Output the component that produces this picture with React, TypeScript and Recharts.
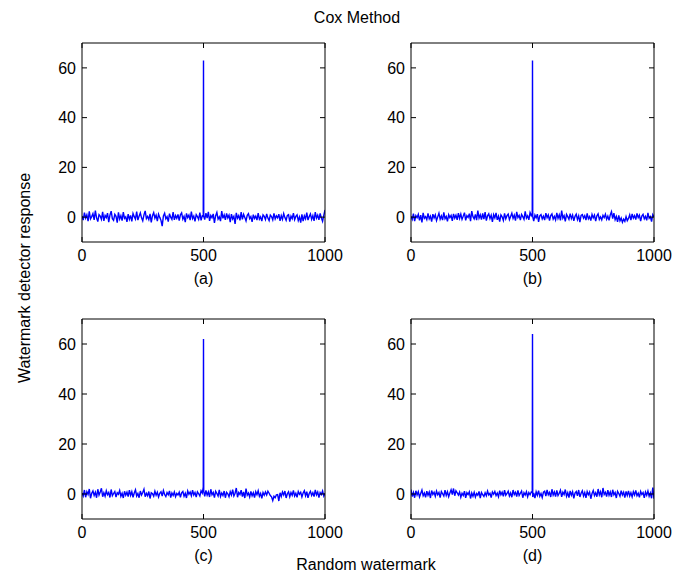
import { LineChart, Line, XAxis, YAxis } from "recharts";

const FONT = "'Liberation Sans', Arial, sans-serif";
const BLUE = "#0000FF";

const X_TICKS = [0, 500, 1000];
const Y_TICKS = [0, 20, 40, 60];

// sample positions along the random-watermark axis
const SAMPLE_X = [
  0, 5, 10, 15, 20, 25, 30, 35, 40, 45, 50, 55, 60, 65, 70, 75, 80, 85, 90, 95,
  100, 105, 110, 115, 120, 125, 130, 135, 140, 145, 150, 155, 160, 165, 170, 175, 180, 185, 190, 195,
  200, 205, 210, 215, 220, 225, 230, 235, 240, 245, 250, 255, 260, 265, 270, 275, 280, 285, 290, 295,
  300, 305, 310, 315, 320, 325, 330, 335, 340, 345, 350, 355, 360, 365, 370, 375, 380, 385, 390, 395,
  400, 405, 410, 415, 420, 425, 430, 435, 440, 445, 450, 455, 460, 465, 470, 475, 480, 485, 490, 495,
  499, 500, 501,
  505, 510, 515, 520, 525, 530, 535, 540, 545, 550, 555, 560, 565, 570, 575, 580, 585, 590, 595, 600,
  605, 610, 615, 620, 625, 630, 635, 640, 645, 650, 655, 660, 665, 670, 675, 680, 685, 690, 695, 700,
  705, 710, 715, 720, 725, 730, 735, 740, 745, 750, 755, 760, 765, 770, 775, 780, 785, 790, 795, 800,
  805, 810, 815, 820, 825, 830, 835, 840, 845, 850, 855, 860, 865, 870, 875, 880, 885, 890, 895, 900,
  905, 910, 915, 920, 925, 930, 935, 940, 945, 950, 955, 960, 965, 970, 975, 980, 985, 990, 995, 1000,
];

const RESP_A = [
  0.5, -1.2, 1.8, -0.4, 0.9, -1.6, 2.3, -0.7, 0.2, 1.4, -1.1, 2.6, -0.3, -1.8, 1.0, 0.4, -0.9, 2.1, -1.5, 0.7,
  -0.2, 1.6, -2.0, 0.8, 2.4, -0.6, -1.3, 1.1, 0.3, -2.2, 1.9, -0.8, 0.6, -1.4, 2.0, -0.5, 0.1, -1.9, 1.2, -0.9,
  0.7, -1.7, 1.5, 0.2, -0.8, 2.2, -1.2, 0.4, 1.7, -0.3, -1.5, 0.9, 2.5, -0.6, 0.3, -1.0, 1.3, -2.1, 0.6, 1.8,
  -0.4, 0.8, -1.6, 1.2, -0.1, -1.3, -3.6, 0.5, 1.6, -0.7, 0.2, -1.8, 1.4, 0.0, -0.9, 2.0, -1.1, 0.6, -0.5, 1.1,
  -1.4, 0.9, 1.7, -0.8, 0.3, -2.0, 1.5, -0.2, 0.8, -1.2, 2.2, -0.6, 0.4, -1.7, 1.0, 0.2, -0.9, 1.8, -1.3, 0.5,
  0.3, 63, 0.4,
  -1.0, 1.6, -0.4, 2.1, -1.5, 0.7, -0.2, 1.3, -2.3, 0.6, 1.9, -0.8, 0.1, -1.6, 2.4, -0.5, 0.9, -1.1, 1.5, -0.3,
  0.8, -2.0, 1.2, -0.7, 0.3, -2.7, 1.7, -0.4, 0.6, -1.3, 2.0, -0.9, 1.1, -0.1, -1.5, 0.7, 1.4, -0.6, 0.2, -1.9,
  1.0, -0.5, 0.4, -1.2, 1.6, -0.8, 0.1, -1.6, 0.9, 0.3, -1.0, 1.3, -0.4, -1.4, 0.8, 0.2, -1.1, 1.5, -0.7, 0.5,
  -0.3, 1.2, -1.5, 0.6, -0.9, 1.4, -0.2, -1.3, 0.7, 1.0, -1.8, 0.4, -0.6, 1.6, -1.0, 0.3, 0.9, -1.4, 0.1, -2.2,
  1.1, -1.6, 0.5, -0.7, 1.8, -1.2, 0.2, 1.3, -0.9, 0.6, -1.5, 2.0, -0.4, 0.8, -1.1, 1.5, -0.3, -1.7, 0.7, 2.9,
];

const RESP_B = [
  0.3, -0.9, 1.4, -1.6, 0.6, -0.2, 1.1, -1.3, 0.8, -2.1, 1.7, -0.5, 0.2, -1.0, 1.5, -0.7, 0.4, -1.8, 1.2, -0.3,
  0.9, -1.4, 0.1, 1.6, -0.8, 0.5, -1.2, 1.9, -0.6, 0.3, -1.7, 1.0, -0.2, 0.7, -1.5, 1.3, -0.4, 0.8, -1.1, 1.6,
  -0.5, 1.2, -0.9, 0.4, 1.8, -1.3, 0.6, -0.1, 1.4, -1.6, 2.4, 0.2, -0.7, 1.1, -1.2, 2.6, -0.4, 0.9, -1.0, 1.5,
  -0.8, 2.0, -1.4, 0.5, 1.3, -0.6, 0.8, -1.9, 1.0, -0.3, 1.7, -1.1, 0.4, -1.8, 0.9, 0.1, -1.3, 1.5, -0.7, 0.6,
  1.2, -1.0, 0.3, 1.6, -0.5, 0.8, -1.4, 2.1, -0.2, 0.7, -1.2, 1.1, 0.2, -0.9, 2.3, -0.4, 0.5, -1.1, 1.8, 0.6,
  1.5, 63, 0.2,
  -1.6, 0.8, -0.3, 1.2, -1.9, 0.5, 1.0, -0.7, 0.4, -1.2, 1.6, -0.2, 0.9, -1.4, 0.6, 1.3, -0.8, 0.3, -1.1, 1.7,
  -0.5, 0.9, -1.3, 2.6, -0.4, 0.6, -1.7, 1.1, 0.2, -0.9, 1.4, -0.6, 0.8, -1.5, 0.3, 1.2, -1.0, 0.5, -2.0, 0.7,
  1.0, -0.4, 0.6, -1.2, 1.5, -0.7, 0.2, -1.4, 1.1, -0.3, 0.8, -1.6, 0.5, 1.3, -0.9, 0.1, -1.1, 0.7, -0.2, 1.2,
  -0.8, 0.4, -1.3, 0.9, 2.2, -0.6, 1.6, -1.0, 0.3, -1.9, 0.7, -1.5, -0.4, -2.1, -0.8, -1.7, 0.2, -1.4, -0.5, 0.9,
  -1.2, 1.3, -0.4, 0.6, -1.0, 1.5, -0.2, 0.8, -1.6, 0.4, 1.1, -0.7, 0.3, -1.3, 1.7, -0.5, 0.2, -1.8, 1.0, 0.1,
];

const RESP_C = [
  0.4, -0.8, 1.6, -1.3, 0.9, -0.2, 2.0, -1.7, 0.3, 1.2, -0.6, 0.7, -1.5, 1.9, -0.4, 0.8, 2.3, -1.1, 0.5, -0.9,
  1.3, -0.3, 0.6, -1.4, 1.8, -0.7, 0.2, 1.0, -1.2, 0.5, -0.1, 1.4, -0.9, 0.3, -1.6, 1.1, -0.5, 0.7, -1.0, 1.5,
  -0.6, 0.9, -1.3, 0.4, 1.7, -0.8, 0.2, -1.5, 1.2, -0.4, 0.6, 1.9, -1.1, 0.3, -0.7, 1.0, -1.8, 0.5, 0.1, -0.9,
  1.1, -0.5, 0.7, -1.2, 0.3, 0.9, -0.8, 1.4, -0.2, -1.0, 0.6, -0.3, 1.2, -1.4, 0.4, -0.6, 0.8, -1.1, 0.2, -0.4,
  0.7, -1.3, 0.5, 1.0, -0.9, 0.3, -1.6, 1.2, -0.1, 0.8, -0.7, 1.5, -0.4, 0.6, -1.2, 0.9, 0.1, -0.8, 1.3, 0.4,
  2.8, 62, 1.0,
  -0.9, 1.4, -0.5, 0.8, -1.2, 1.9, -0.3, 0.6, -1.4, 1.1, 0.2, -0.8, 1.6, -1.0, 0.4, -0.6, 1.2, -1.5, 0.7, 0.1,
  -1.1, 0.9, -0.4, 1.7, -0.8, 0.3, 2.4, -1.3, 0.6, -0.2, 1.5, -1.0, 0.8, -1.6, 2.2, -0.5, 0.4, -1.2, 1.0, -0.7,
  0.5, -1.4, 0.9, -0.3, 1.3, -0.9, 0.2, -1.7, 0.6, -0.5, 0.8, -0.4, 1.1, 0.3, -0.6, -1.1, -2.6, -0.9, -1.5, -0.3,
  -0.2, -2.8, 0.5, -1.0, 0.8, -0.4, 1.2, -1.6, 0.1, 0.9, -1.1, 0.6, -0.5, 1.4, -0.8, 0.3, -1.3, 1.0, -0.1, 0.7,
  -1.2, 0.4, 1.3, -0.7, 0.9, -1.5, 0.2, 1.1, -0.6, 0.5, -1.0, 1.6, -0.3, 0.8, -1.4, 0.6, -0.2, 1.2, -0.8, 0.3,
];

const RESP_D = [
  1.8, -1.0, 0.6, -1.5, 1.3, -0.4, 0.9, -1.2, 0.2, 1.6, -0.7, 0.4, -1.3, 1.1, -0.5, 0.8, -1.6, 1.4, -0.2, 0.7,
  -0.9, 1.2, -0.3, 0.6, -1.4, 1.0, 0.1, -0.8, 1.5, -0.6, 0.9, -1.1, 0.4, 1.7, -0.2, 2.2, -0.7, 1.3, 0.5, -0.4,
  0.8, -1.3, 0.3, -0.6, 1.1, -1.5, 0.5, -0.2, 0.9, -1.8, 0.4, -0.9, 0.7, -1.2, 0.2, -0.5, 1.0, -1.6, 0.6, -0.3,
  -1.0, 0.5, -0.7, 1.2, -0.4, 0.3, -1.4, 0.8, -0.1, 1.0, -0.6, 0.4, -1.1, 1.3, -0.3, 0.7, -0.9, 1.5, -0.5, 0.2,
  1.1, -0.8, 0.4, -1.3, 1.6, -0.2, 0.7, -1.0, 1.4, -0.6, 0.3, 1.2, -1.5, 0.5, -0.4, 0.9, -1.1, 0.6, -0.3, 0.8,
  0.6, 64, -1.2,
  0.4, -1.6, 0.9, -0.5, 1.3, -0.9, 0.2, -1.4, 0.7, 1.1, -0.8, 1.6, -0.3, 0.6, -1.2, 1.9, -0.4, 0.8, -1.0, 1.4,
  -0.6, 0.3, 1.5, -1.1, 0.7, -0.2, 1.8, -0.9, 0.5, -1.4, 1.2, -0.5, 0.9, -1.7, 0.4, 1.0, -0.7, 1.6, -1.2, 0.3,
  1.3, -0.8, 0.6, -1.5, 1.0, -0.3, 0.8, -1.9, 0.2, 1.4, -0.6, 0.5, -1.1, 2.0, -0.4, 0.9, -1.3, 2.4, -0.2, 0.7,
  -1.0, 1.5, -0.5, 0.8, -1.2, 1.7, -0.3, 0.6, -1.6, 1.1, 0.2, -0.9, 1.3, -0.4, 0.7, -1.4, 1.0, -0.6, 1.2, -0.8,
  0.5, -1.1, 0.9, -0.4, 1.4, -0.7, 0.3, -1.3, 1.0, -0.2, 0.6, -1.5, 0.8, -0.5, 1.2, -0.9, 0.4, -1.7, 2.6, -1.9,
];

const PANEL_LABELS = ["(a)", "(b)", "(c)", "(d)"];

const rows = SAMPLE_X.map((x, i) => ({ x, a: RESP_A[i], b: RESP_B[i], c: RESP_C[i], d: RESP_D[i] }));

// plot-area boxes, matlab style
const PLOT_W = 243;
const panels = [
  { key: "a", left: 82, top: 43, h: 199 },
  { key: "b", left: 411, top: 43, h: 199 },
  { key: "c", left: 82, top: 319, h: 200 },
  { key: "d", left: 411, top: 319, h: 200 },
];

const tickStyle = { fill: "#000", fontSize: 16, fontFamily: FONT };

function Panel({ k, left, top, h }: { k: string; left: number; top: number; h: number }) {
  return (
    <div style={{ position: "absolute", left: left - 40, top: top - 10 }}>
      <LineChart width={40 + PLOT_W + 24} height={10 + h + 32} data={rows}
        margin={{ top: 9, right: 23, bottom: 0, left: 0 }}>
        <XAxis xAxisId="b" dataKey="x" type="number" domain={[0, 1000]} ticks={X_TICKS}
          allowDataOverflow stroke="#000" tickSize={-5} tickMargin={13} height={32}
          tick={tickStyle} interval={0} />
        <XAxis xAxisId="t" orientation="top" dataKey="x" type="number" domain={[0, 1000]} ticks={X_TICKS}
          allowDataOverflow stroke="#000" tickSize={-5} height={1} tickMargin={0}
          tick={{ fontSize: 1 }} tickFormatter={() => ""} interval={0} />
        <YAxis yAxisId="l" type="number" domain={[-10, 70]} ticks={Y_TICKS} allowDataOverflow
          stroke="#000" tickSize={-5} tickMargin={11} width={40} tick={tickStyle} interval={0} />
        <YAxis yAxisId="r" orientation="right" type="number" domain={[-10, 70]} ticks={Y_TICKS}
          allowDataOverflow stroke="#000" tickSize={-5} width={1} tickMargin={0}
          tick={{ fontSize: 1 }} tickFormatter={() => ""} interval={0} />
        <Line xAxisId="b" yAxisId="l" type="linear" dataKey={k} stroke={BLUE} strokeWidth={1.4}
          dot={false} isAnimationActive={false} />
      </LineChart>
    </div>
  );
}

export default function App() {
  return (
    <div style={{ position: "absolute", left: 0, top: 0, width: 673, height: 573, background: "#fff", fontFamily: FONT }}>
      {panels.map((p) => (
        <Panel key={p.key} k={p.key} left={p.left} top={p.top} h={p.h} />
      ))}
      <svg width={673} height={573} style={{ position: "absolute", left: 0, top: 0, pointerEvents: "none" }}>
        <g fontFamily={FONT} fontSize={16} fill="#000" textAnchor="middle">
          <text x={357} y={23}>Cox Method</text>
          <text transform="translate(30,278) rotate(-90)">Watermark detector response</text>
          <text x={366} y={570}>Random watermark</text>
          {panels.map((p, i) => (
            <text key={p.key} x={p.left + PLOT_W / 2} y={p.top + p.h + 42}>{PANEL_LABELS[i]}</text>
          ))}
        </g>
      </svg>
    </div>
  );
}
